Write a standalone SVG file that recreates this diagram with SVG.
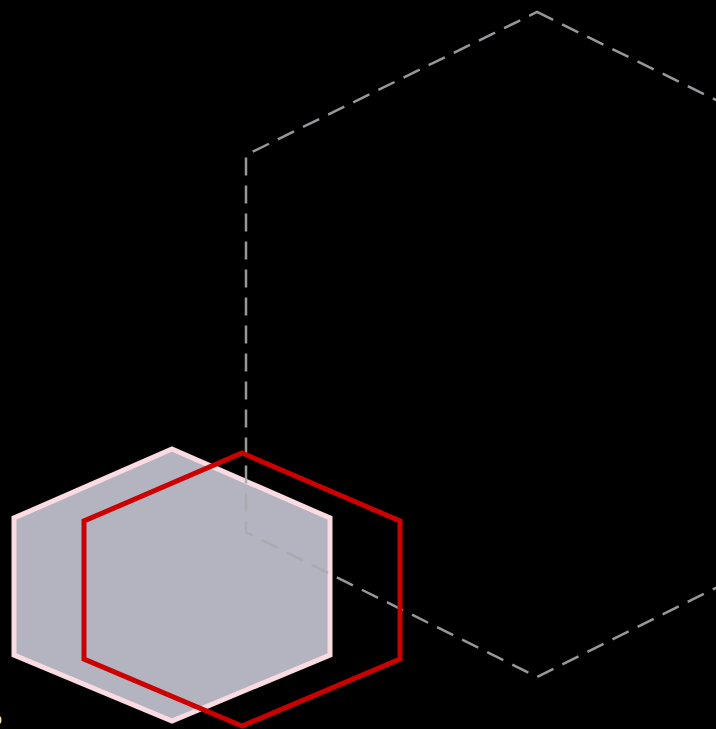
<svg xmlns="http://www.w3.org/2000/svg" width="716" height="729" viewBox="0 0 716 729">
<style>
.dash{fill:none;stroke:#a8a8ad;stroke-width:2.5;stroke-dasharray:18 10;opacity:0.9}
.pink{fill:#b3b4bf;stroke:#fadbe2;stroke-width:5}
.red{fill:none;stroke:#cc0000;stroke-width:5}
</style>
<rect width="716" height="729" fill="#000"/>
<g id="node-pink"><polygon class="pink" points="172,449 330,518 330,655 172,721 14,655 14,518"/></g>
<g id="node-big"><polygon class="dash" points="537,12 828,155 828,532 537,677 246,532 246,155"/></g>
<g id="node-red"><polygon class="red" points="242,453 400,521 400,659 242,726 84,659 84,521"/></g>
<g id="connectors"></g>
<text x="2" y="725" text-anchor="end" font-family="Liberation Sans, sans-serif" font-size="14" fill="#fff">O</text>
</svg>
